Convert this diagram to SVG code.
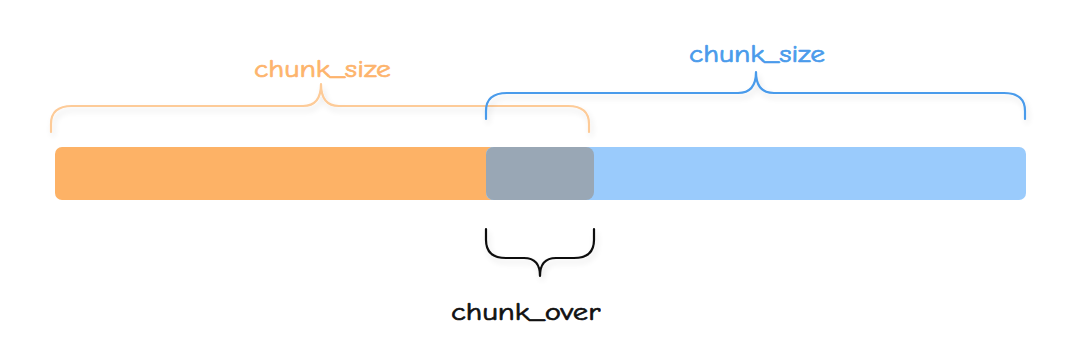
<svg xmlns="http://www.w3.org/2000/svg" width="1080" height="359" viewBox="0 0 1080 359">
  <style>
    .brace { fill: none; stroke-width: 2.2; stroke-linecap: round; stroke-linejoin: round; }
    .lbl { font-family: "Comic Neue", "Noto Sans", "DejaVu Sans", sans-serif; font-size: 25px; stroke-width: 0.7; }
  </style>
  <defs>
    <filter id="sh" x="-10%" y="-50%" width="120%" height="200%">
      <feGaussianBlur in="SourceAlpha" stdDeviation="3"/>
      <feOffset dx="2" dy="4" result="b"/>
      <feComponentTransfer><feFuncA type="linear" slope="0.12"/></feComponentTransfer>
      <feMerge><feMergeNode/><feMergeNode in="SourceGraphic"/></feMerge>
    </filter>
    <clipPath id="cut"><rect x="400" y="280" width="201" height="60"/></clipPath>
  </defs>
  <rect width="1080" height="359" fill="#ffffff"/>

  <g id="bar-left">
    <rect x="55" y="147" width="460" height="53" rx="7" fill="#FDB266"/>
  </g>
  <g id="bar-right">
    <rect x="486" y="147" width="540" height="53" rx="7" fill="#9ACBFC"/>
  </g>
  <g id="bar-overlap">
    <rect x="486" y="147" width="108" height="53" rx="8" fill="#99A7B5"/>
  </g>

  <g id="connectors">
    <path class="brace" stroke="#FDCB98" filter="url(#sh)" d="M51,132 L51,124 Q51,106 72,106 L303,106 Q321,106 321,84 Q321,106 339,106 L568,106 Q589,106 589,124 L589,132"/>
    <path class="brace" stroke="#4A9BEB" filter="url(#sh)" d="M486,119 L486,111 Q486,93 507,93 L738,93 Q756,93 756,72 Q756,93 774,93 L1004,93 Q1025,93 1025,111 L1025,119"/>
    <path class="brace" stroke="#111111" filter="url(#sh)" d="M486,229 L486,240 Q486,258 506,258 L524,258 Q540,258 540,276 Q540,258 556,258 L574,258 Q594,258 594,240 L594,229"/>
  </g>

  <g id="label-left">
    <text class="lbl" x="254" y="77" fill="#FDB46C" stroke="#FDB46C" textLength="137" lengthAdjust="spacingAndGlyphs">chunk_size</text>
  </g>
  <g id="label-right">
    <text class="lbl" x="689" y="62" fill="#4A9BEB" stroke="#4A9BEB" textLength="136" lengthAdjust="spacingAndGlyphs">chunk_size</text>
  </g>
  <g id="label-overlap">
    <text class="lbl" x="451" y="320" fill="#111111" stroke="#111111" clip-path="url(#cut)" textLength="156" lengthAdjust="spacingAndGlyphs">chunk_overl</text>
  </g>
</svg>
